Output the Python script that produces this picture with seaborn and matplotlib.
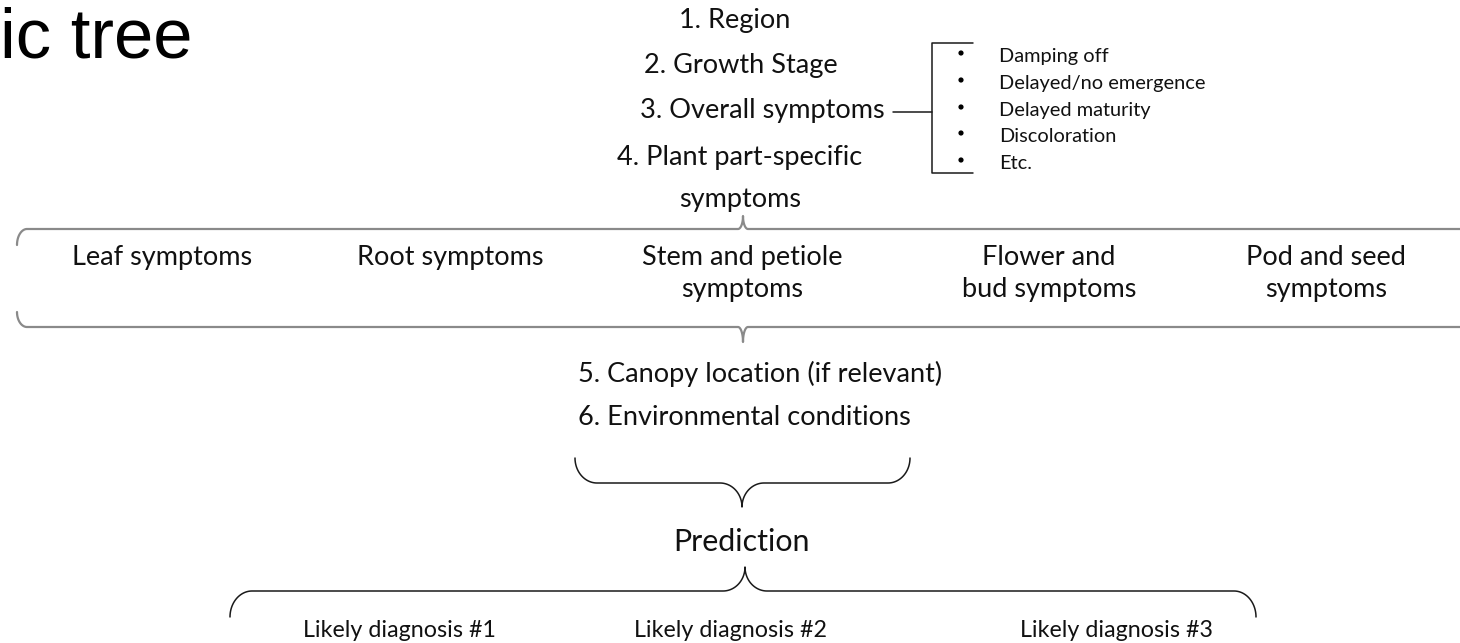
import numpy as np
import pandas as pd
import matplotlib
matplotlib.use("Agg")
import matplotlib.pyplot as plt
import seaborn as sns

# ---------------- content ----------------
title_fragment = "ic tree"
top_steps = ["1. Region", "2. Growth Stage", "3. Overall symptoms",
             "4. Plant part-specific\nsymptoms"]
overall_symptoms = ["Damping off", "Delayed/no emergence", "Delayed maturity",
                    "Discoloration", "Etc."]
plant_parts = ["Leaf symptoms", "Root symptoms", "Stem and petiole\nsymptoms",
               "Flower and\nbud symptoms", "Pod and seed\nsymptoms"]
mid_steps = ["5. Canopy location (if relevant)", "6. Environmental conditions"]
prediction_label = "Prediction"
diagnoses = ["Likely diagnosis #1", "Likely diagnosis #2", "Likely diagnosis #3"]

# ---------------- layout (pixel canvas) ----------------
W, H = 1460, 643
top_cx = [735, 741, 762, 740]
top_base = [28, 73, 118, 165]
top_gap = 42
bullet_x, bullet_text_x = 961, 999
bullet_y = [53, 80, 107, 133, 160]
part_cx = [162, 450, 742, 1049, 1326]
part_base, part_gap = 265, 32
mid_x, mid_base = 578, [382, 425]
pred_cx, pred_base = 741, 551
diag_cx, diag_base = [399, 730, 1116], 637

TXT = "#111111"
FONT = ["Lato", "DejaVu Sans"]

sns.set_theme(style="white")
plt.rcParams["font.family"] = FONT

fig = plt.figure(figsize=(W / 100, H / 100), dpi=100)
ax = fig.add_axes([0, 0, 1, 1])
ax.set_xlim(0, W)
ax.set_ylim(H, 0)
ax.axis("off")
renderer = fig.canvas.get_renderer()


def fit_size(text, target_px, family=FONT, base=20.0):
    t = ax.text(0, 0, text, fontsize=base, family=family)
    w = t.get_window_extent(renderer).width
    t.remove()
    return base * target_px / w


fs_main = fit_size(mid_steps[0], 365)
fs_small = fit_size(overall_symptoms[1], 207)
fs_diag = fit_size(diagnoses[0], 192)
fs_pred = fit_size(prediction_label, 137)
fs_title = fit_size(title_fragment, 192, family=["Liberation Sans"])


def line(xs, ys, color="#1a1a1a", lw=1.1):
    df = pd.DataFrame({"x": xs, "y": ys})
    sns.lineplot(data=df, x="x", y="y", sort=False, estimator=None,
                 color=color, lw=lw, ax=ax, legend=False)


def brace(x0, x1, xm, y, end_dy, tip_dy, rx_end, rx_tip, **kw):
    t = np.linspace(0, np.pi / 2, 30)
    xs, ys = [], []
    cx, cy = x0 + rx_end, y + end_dy
    xs += list(cx - rx_end * np.cos(t)); ys += list(cy - end_dy * np.sin(t))
    cx, cy = xm - rx_tip, y + tip_dy
    xs += list(cx + rx_tip * np.sin(t)); ys += list(cy - tip_dy * np.cos(t))
    tr = t[::-1]
    cx, cy = xm + rx_tip, y + tip_dy
    xs += list(cx - rx_tip * np.sin(tr)); ys += list(cy - tip_dy * np.cos(tr))
    cx, cy = x1 - rx_end, y + end_dy
    xs += list(cx + rx_end * np.cos(tr)); ys += list(cy - end_dy * np.sin(tr))
    line(xs, ys, **kw)


# title fragment
ax.text(0, 57, title_fragment, fontsize=fs_title, family=["Liberation Sans"],
        color="black", ha="left", va="baseline")

# top steps
for lab, cx, by in zip(top_steps, top_cx, top_base):
    for i, ln in enumerate(lab.split("\n")):
        ax.text(cx, by + i * top_gap, ln, fontsize=fs_main, color=TXT,
                ha="center", va="baseline")

# connector + bracket for overall symptoms
line([893, 932], [112, 112])
line([973, 932, 932, 973], [43, 43, 173, 173])
sns.scatterplot(x=[bullet_x] * len(bullet_y), y=bullet_y, s=14, color="black",
                edgecolor="none", ax=ax, legend=False)
for lab, yy in zip(overall_symptoms, bullet_y):
    ax.text(bullet_text_x, yy + 9, lab, fontsize=fs_small, color=TXT,
            ha="left", va="baseline")

# plant-part grey brackets
GREY = "#8a8a8a"
brace(17, 1500, 743, 229, 16, -13, 10, 5, color=GREY, lw=1.6)
brace(17, 1500, 743, 327, -15, 15, 10, 5, color=GREY, lw=1.6)
for lab, cx in zip(plant_parts, part_cx):
    for i, ln in enumerate(lab.split("\n")):
        ax.text(cx, part_base + i * part_gap, ln, fontsize=fs_main, color=TXT,
                ha="center", va="baseline")

# canopy / environment
for lab, by in zip(mid_steps, mid_base):
    ax.text(mid_x, by, lab, fontsize=fs_main, color=TXT, ha="left", va="baseline")

brace(575, 910, 742, 483, -25, 24, 22, 22)
ax.text(pred_cx, pred_base, prediction_label, fontsize=fs_pred, color=TXT,
        ha="center", va="baseline")
brace(230, 1256, 745, 591, 26, -24, 22, 22)

for lab, cx in zip(diagnoses, diag_cx):
    ax.text(cx, diag_base, lab, fontsize=fs_diag, color=TXT,
            ha="center", va="baseline")

fig.savefig("out.png", dpi=100, facecolor="white")
